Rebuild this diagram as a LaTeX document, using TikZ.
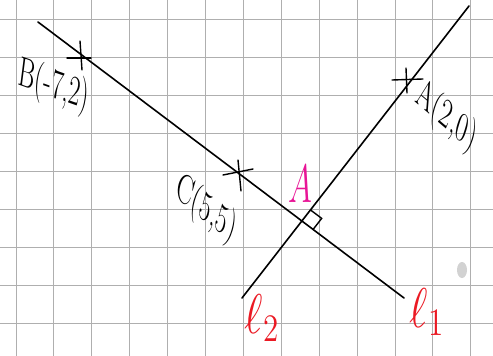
\documentclass[tikz,border=0pt]{standalone}
\usetikzlibrary{calc}
\definecolor{gridgray}{RGB}{175,175,175}
\definecolor{pinkmag}{RGB}{232,20,150}
\definecolor{penred}{RGB}{235,25,35}
\begin{document}
\begin{tikzpicture}[x=1pt,y=-1pt,
  gridline/.style={gridgray,line width=0.9pt},
  pen/.style={black,line width=1.6pt,line cap=round},
  tick/.style={black,line width=1.4pt,line cap=round},
  lbl/.style={font=\fontsize{42}{42}\selectfont,inner sep=0pt,xscale=0.6},
  redlbl/.style={penred,font=\huge,inner sep=0pt,scale=2.7,xscale=0.8}]
\fill[white] (0,0) rectangle (493,356);
\useasboundingbox (0,0) rectangle (493,356);
% grid
\foreach \k in {0,...,12} {\draw[gridline] ({16+37.9*\k},0) -- ({16+37.9*\k},356);}
\foreach \k in {0,...,8} {\draw[gridline] (0,{19+38.1*\k}) -- (493,{19+38.1*\k});}
% smudge
\fill[gray!35] (462,270) ellipse (5 and 8);
% line l1 through B and C
\coordinate (l1s) at (38,22);
\coordinate (l1e) at (404,298);
\coordinate (B) at (80,57);
\coordinate (C) at (240,171);
\draw[pen] (l1s) -- (l1e);
% line l2 through A
\coordinate (l2s) at (242,298);
\coordinate (l2e) at (469,6);
\coordinate (A) at (407,80);
\draw[pen] (l2s) -- (l2e);
% intersection and right angle
\coordinate (P) at (intersection of l1s--l1e and l2s--l2e);
\draw[tick,line cap=butt] ($(P)!14pt!(l2e)$) -- ($(P)!14pt!(l2e) + (P)!14pt!(l1e) - (P)$) -- ($(P)!14pt!(l1e)$);
% crosses
\draw[tick] ($(B)+(-13,1)$) -- ($(B)+(11,1)$);
\draw[tick] ($(B)+(0,-16)$) -- ($(B)+(2,13)$);
\draw[tick] ($(A)+(-15,0)$) -- ($(A)+(16,-1)$);
\draw[tick] ($(A)+(-1,-12)$) -- ($(A)+(0,13)$);
\draw[tick] ($(C)+(-17,4)$) -- ($(C)+(13,-2)$);
\draw[tick] ($(C)+(-2,-11)$) -- ($(C)+(1,20)$);
% labels
\node[lbl,rotate=-12] (Blbl) at (54,87) {B(-7,2)};
\node[lbl,rotate=-27] (Albl) at (446,117) {A(2,0)};
\node[lbl,rotate=-25] (Clbl) at (206,210) {C(5,5)};
\node[pinkmag,font=\huge,inner sep=0pt,scale=2.6,xscale=0.6] (Alab) at (300,184) {$A$};
\node[redlbl] (l2lbl) at (262,318) {$\ell_2$};
\node[redlbl] (l1lbl) at (427,312) {$\ell_1$};
\end{tikzpicture}
\end{document}
